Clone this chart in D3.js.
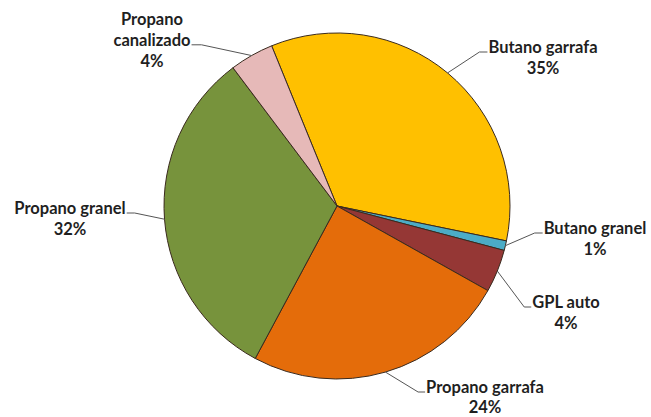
<!DOCTYPE html>
<html>
<head>
<meta charset="utf-8">
<style>
  body { margin: 0; background: #fff; }
  svg text { font-family: Lato, "Open Sans", sans-serif; font-weight: bold; font-size: 16.5px; fill: #1f1f1f; }
</style>
</head>
<body>
<div id="container"></div>
<script src="https://cdn.jsdelivr.net/npm/d3@7"></script>
<script>
// shares, labels as printed on the chart
const categories = ["Butano garrafa", "Butano granel", "GPL auto", "Propano garrafa", "Propano granel", "Propano canalizado"];
const shares = [34.4, 0.9, 4.0, 24.7, 31.9, 4.1];
const pctLabels = ["35%", "1%", "4%", "24%", "32%", "4%"];
const colors = ["#FFC000", "#4BACC6", "#953735", "#E46C0A", "#77933C", "#E6B9B8"];

const width = 651, height = 417;
const cx = 337, cy = 206, radius = 173;
const startDeg = -22.2;

// label layout: text centre, first baseline, which line the leader hangs on, side
const labelLayout = {
  "Butano garrafa":     { lines: ["Butano garrafa"], x: 543, y: 53, side: "left", elbow: 8 },
  "Butano granel":      { lines: ["Butano granel"], x: 595, y: 234, side: "left", elbow: 8 },
  "GPL auto":           { lines: ["GPL auto"], x: 566, y: 308, side: "left", elbow: 7 },
  "Propano garrafa":    { lines: ["Propano garrafa"], x: 485, y: 393, side: "left", elbow: 7, step: 20 },
  "Propano granel":     { lines: ["Propano granel"], x: 70, y: 214, side: "right", elbow: 8 },
  "Propano canalizado": { lines: ["Propano", "canalizado"], x: 152, y: 25, side: "right", elbow: 10, leaderLine: 1 }
};
const lineStep = 20.8;

const svg = d3.select("#container")
  .append("svg")
  .attr("width", width)
  .attr("height", height);

const pie = d3.pie()
  .sort(null)
  .value(d => d.value)
  .startAngle(startDeg * Math.PI / 180)
  .endAngle(startDeg * Math.PI / 180 + 2 * Math.PI);

const data = categories.map((c, i) => ({ name: c, value: shares[i], pct: pctLabels[i], color: colors[i] }));
const arcs = pie(data);

const arc = d3.arc().innerRadius(0).outerRadius(radius);

const g = svg.append("g").attr("transform", `translate(${cx},${cy})`);

g.selectAll("path")
  .data(arcs)
  .join("path")
  .attr("d", arc)
  .attr("fill", d => d.data.color)
  .attr("stroke", "#3a2a1e")
  .attr("stroke-width", 1)
  .attr("stroke-linejoin", "round");

// labels + leader lines
const labels = svg.append("g");
arcs.forEach(d => {
  const L = labelLayout[d.data.name];
  const step = L.step || lineStep;
  const lines = L.lines.concat([d.data.pct]);
  const t = labels.append("g");
  const texts = lines.map((s, k) =>
    t.append("text")
      .attr("x", L.x)
      .attr("y", L.y + k * step)
      .attr("text-anchor", "middle")
      .text(s)
  );
  const anchorText = texts[L.leaderLine || 0].node().getBBox();
  const mid = (d.startAngle + d.endAngle) / 2;
  const px = cx + Math.sin(mid) * radius;
  const py = cy - Math.cos(mid) * radius;
  const ly = L.y + (L.leaderLine || 0) * step - 1;
  const sx = L.side === "left" ? anchorText.x - 1 : anchorText.x + anchorText.width + 1;
  const ex = L.side === "left" ? sx - L.elbow : sx + L.elbow;
  labels.append("polyline")
    .attr("points", [[sx, ly], [ex, ly], [px, py]].map(p => p.join(",")).join(" "))
    .attr("fill", "none")
    .attr("stroke", "#555")
    .attr("stroke-width", 1);
});
</script>
</body>
</html>
